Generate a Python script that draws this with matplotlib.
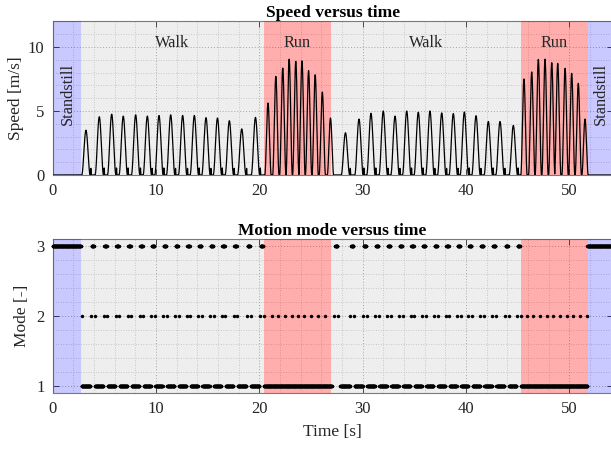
import numpy as np
import matplotlib
matplotlib.use("Agg")
import matplotlib.pyplot as plt
from matplotlib.ticker import MultipleLocator

plt.rcParams['font.family'] = ['Liberation Serif', 'DejaVu Serif']

# ---------------- data ----------------
region_edges = [0.0, 2.74, 20.45, 26.94, 45.34, 51.82, 54.2]
region_labels = ["Standstill", "Walk", "Run", "Walk", "Run", "Standstill"]
region_kinds = ["still", "walk", "run", "walk", "run", "still"]

walk_peak_t = [3.22, 4.51, 5.71, 6.83, 8.03, 9.16, 10.29, 11.42, 12.58, 13.71,
               14.84, 15.95, 17.10, 18.30, 19.63,
               28.34, 29.65, 30.81, 32.00, 33.14, 34.27, 35.39, 36.52, 37.66,
               38.78, 39.85, 40.98, 42.17, 43.30, 44.59]
walk_peak_v = [3.5, 4.55, 4.75, 4.6, 4.7, 4.6, 4.65, 4.7, 4.65, 4.65,
               4.48, 4.45, 4.24, 3.6, 4.5,
               3.3, 4.37, 4.82, 5.0, 4.6, 5.0, 4.9, 5.0, 4.85,
               4.8, 4.92, 4.63, 4.18, 4.18, 3.87]
run_peak_t = [20.84, 21.60, 22.27, 22.89, 23.53, 24.13, 24.77, 25.41, 26.10, 26.89,
              45.62, 46.37, 47.01, 47.66, 48.31, 48.89, 49.60, 50.24, 50.88, 51.53]
run_peak_v = [5.62, 7.7, 8.35, 9.05, 8.88, 8.92, 8.15, 7.83, 6.48, 4.45,
              7.5, 8.05, 9.03, 9.05, 8.77, 8.72, 8.33, 7.94, 7.16, 4.37]

# motion mode (3 = standstill, 2 = transition, 1 = moving)
mode3_still_start = [0.0, 51.76]
mode3_still_end = [2.72, 54.2]
mode3_dash_t = [3.87, 5.11, 6.27, 7.43, 8.60, 9.73, 10.86, 12.00, 13.15, 14.28,
                15.40, 16.53, 17.70, 18.97, 20.24,
                27.45, 29.00, 30.23, 31.41, 32.57, 33.71, 34.83, 35.96, 37.09,
                38.22, 39.32, 40.42, 41.58, 42.74, 43.95, 45.11]
mode2_single_t = [2.80,
                  21.20, 21.84, 22.49, 23.14, 23.78, 24.36, 25.00, 25.65, 26.36,
                  45.88, 46.54, 47.17, 47.83, 48.46, 49.12, 49.77, 50.40, 51.05, 51.70]
mode1_start = [2.80, 4.09, 5.33, 6.49, 7.65, 8.82, 9.95, 11.08, 12.22, 13.37,
               14.50, 15.62, 16.75, 17.92, 19.19, 20.46,
               27.84, 29.22, 30.45, 31.63, 32.79, 33.93, 35.05, 36.18, 37.31,
               38.44, 39.54, 40.64, 41.80, 42.96, 44.17, 45.33]
mode1_end = [3.65, 4.89, 6.05, 7.21, 8.38, 9.51, 10.64, 11.78, 12.93, 14.06,
             15.18, 16.31, 17.48, 18.75, 20.02, 27.02,
             28.78, 30.01, 31.19, 32.35, 33.49, 34.61, 35.74, 36.87, 38.00,
             39.10, 40.20, 41.36, 42.52, 43.73, 44.89, 51.75]

# ---------------- styling constants ----------------
DASH_HALF = 0.11
PAIR_HALF = 0.18
DT = 0.02
WALK_W = 0.41
RUN_W = 0.31

fill = {"still": ((0.0, 0.0, 1.0), 0.21),
        "walk": ((0.5, 0.5, 0.5), 0.13),
        "run": ((1.0, 0.0, 0.0), 0.32)}

# ---------------- speed signal ----------------
t = np.arange(0.0, 54.2, 0.004)
v = np.zeros_like(t)
for pt, pv in zip(walk_peak_t, walk_peak_v):
    d = t - pt
    m = np.abs(d) < WALK_W
    v[m] = np.maximum(v[m], pv * np.cos(np.pi / 2 * d[m] / WALK_W) ** 2)
    b = np.abs(d - 0.47) < 0.035
    v[b] = np.maximum(v[b], 0.55 * (1 - np.abs(d[b] - 0.47) / 0.035))
for pt, pv in zip(run_peak_t, run_peak_v):
    d = t - pt
    m = np.abs(d) < RUN_W
    v[m] = np.maximum(v[m], pv * np.cos(np.pi / 2 * d[m] / RUN_W) ** 2)

# ---------------- mode samples ----------------
def span_samples(starts, ends):
    out = []
    for s, e in zip(starts, ends):
        out.append(np.arange(s, e + 1e-9, DT))
    return np.concatenate(out)

m3 = np.concatenate([span_samples(mode3_still_start, mode3_still_end),
                     span_samples([c - DASH_HALF for c in mode3_dash_t],
                                  [c + DASH_HALF for c in mode3_dash_t])])
m2 = np.concatenate([np.array(mode2_single_t),
                     np.array([c - PAIR_HALF for c in mode3_dash_t]),
                     np.array([c + PAIR_HALF for c in mode3_dash_t])])
m1 = span_samples(mode1_start, mode1_end)

# ---------------- figure ----------------
fig = plt.figure(figsize=(6.11, 4.51), dpi=100)
W, H = 611.0, 451.0
x0 = 52.7 / W
wid = (54.2 * 10.33) / W
ax1 = fig.add_axes([x0, 1 - 175.0 / H, wid, 153.6 / H])
ax2 = fig.add_axes([x0, 1 - 393.0 / H, wid, 154.0 / H])

tick_col = '#404040'
for ax in (ax1, ax2):
    for a, b, k in zip(region_edges[:-1], region_edges[1:], region_kinds):
        col, al = fill[k]
        ax.axvspan(a, b, facecolor=col, alpha=al, edgecolor='none', zorder=3)
    ax.set_xlim(0, 54.2)
    ax.xaxis.set_major_locator(MultipleLocator(10))
    ax.xaxis.set_minor_locator(MultipleLocator(2))
    ax.grid(True, which='major', color='#ababab', linestyle=(0, (1, 2)), linewidth=0.7, zorder=2)
    ax.grid(True, which='minor', color='#c4c4c4', linestyle=(0, (1, 2)), linewidth=0.6, zorder=2)
    ax.tick_params(which='both', direction='in', top=True, right=True, colors=tick_col,
                   labelcolor='#262626', labelsize=12)
    ax.tick_params(which='major', length=4.5, width=0.7, pad=6)
    ax.tick_params(which='minor', length=0)
    for s in ax.spines.values():
        s.set_color('#7a7a7a')
        s.set_linewidth(0.8)

# top plot
ax1.plot(t, v, color='black', linewidth=0.9, zorder=5)
ax1.set_ylim(0, 12)
ax1.yaxis.set_major_locator(MultipleLocator(5))
ax1.yaxis.set_minor_locator(MultipleLocator(1))
ax1.set_ylabel('Speed [m/s]', fontsize=12.5, color='#262626', labelpad=3)
ax1.set_title('Speed versus time', fontsize=12.5, fontweight='bold', pad=3)
for a, b, lab in zip(region_edges[:-1], region_edges[1:], region_labels):
    cx = (a + b) / 2
    if lab == "Standstill":
        ax1.text(cx + 0.1, 6.3, lab, rotation=90, ha='center', va='center', fontsize=11.7,
                 color='#262626', zorder=6)
    else:
        ax1.text(cx, 10.3, lab, ha='center', va='center', fontsize=11.7,
                 color='#262626', zorder=6)

# bottom plot
for tt, mv in ((m3, 3), (m2, 2), (m1, 1)):
    ax2.plot(tt, np.full_like(tt, mv), linestyle='none', marker='o', markersize=2.5,
             markeredgewidth=0, color='black', zorder=5, clip_on=False)
ax2.set_ylim(0.9, 3.1)
ax2.yaxis.set_major_locator(MultipleLocator(1))
ax2.yaxis.set_minor_locator(MultipleLocator(0.2))
ax2.set_ylabel('Mode [-]', fontsize=12.5, color='#262626', labelpad=4)
ax2.set_xlabel('Time [s]', fontsize=12.5, color='#262626', labelpad=5)
ax2.set_title('Motion mode versus time', fontsize=12.5, fontweight='bold', pad=3)

fig.savefig('out.png', dpi=100)
